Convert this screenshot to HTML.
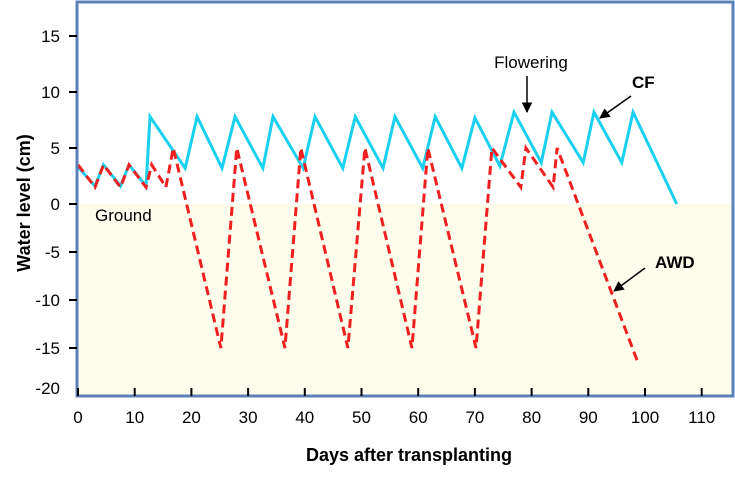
<!DOCTYPE html>
<html><head><meta charset="utf-8"><style>
body{margin:0;background:#fff;}
svg text{font-family:"Liberation Sans",Arial,sans-serif;}
</style></head><body>
<svg id="chart" width="735" height="478" viewBox="0 0 735 478">
<defs><marker id="ah" viewBox="0 0 10 10" refX="9" refY="5" markerWidth="7" markerHeight="7" orient="auto"><path d="M0,0 L10,5 L0,10 z" fill="#000"/></marker></defs>
<rect x="78" y="204" width="654" height="192" fill="#fefdec"/>
<g id="series"></g>
<rect x="77" y="2" width="656" height="394" fill="none" stroke="#5a82b8" stroke-width="3"/>
<g id="axes"></g>
<text x="95" y="221" font-size="17">Ground</text>
<text x="531" y="68" font-size="17" text-anchor="middle">Flowering</text>
<line x1="527" y1="76" x2="527" y2="112" stroke="#000" stroke-width="1.5" marker-end="url(#ah)"/>
<text x="632" y="88" font-size="17" font-weight="bold">CF</text>
<line x1="631" y1="96" x2="600" y2="118" stroke="#000" stroke-width="1.5" marker-end="url(#ah)"/>
<text x="655" y="268" font-size="17" font-weight="bold">AWD</text>
<line x1="645" y1="268" x2="614" y2="291" stroke="#000" stroke-width="1.5" marker-end="url(#ah)"/>
<text transform="translate(30,203) rotate(-90)" font-size="18" font-weight="bold" text-anchor="middle">Water level (cm)</text>
<text x="409" y="461" font-size="18" font-weight="bold" text-anchor="middle">Days after transplanting</text>
</svg>
<script>
const cfDays=[0,3,4.5,7.5,9,12,12.7,18.9,21,25.4,27.7,32.6,34.4,39.7,41.8,46.7,48.9,53.8,55.9,60.8,63,67.7,70,74.4,76.9,81.7,83.6,89.1,91,95.9,97.9,105.6];
const cfLevel=[3.3,1.6,3.5,1.6,3.5,1.6,7.8,3.2,7.8,3.2,7.8,3.2,7.8,3.2,7.8,3.2,7.8,3.2,7.8,3.2,7.8,3.2,7.7,3.4,8.2,3.7,8.2,3.7,8.2,3.7,8.2,0];
const awdDays=[0,3,4.5,7.5,9,12,13,15.5,16.8,25.2,28,36.5,39.3,47.6,50.6,58.9,61.7,70.2,73,78.1,79,83.8,84.5,98.8];
const awdLevel=[3.5,1.5,3.5,1.5,3.5,1.5,3.5,1.5,5,-15,5,-15,5,-15,5,-15,5,-15,5,1.5,5,1.5,5,-16.6];
const xTicks=[0,10,20,30,40,50,60,70,80,90,100,110];
const yTicks=[15,10,5,0,-5,-10,-15,-20];
const NS='http://www.w3.org/2000/svg';
function X(d){return 78+d*5.67;}
function Y(v){return v>=0?204-v*11.2:204-v*9.6;}
const ser=document.getElementById('series'),ax=document.getElementById('axes');
function mk(t,a,p){const e=document.createElementNS(NS,t);for(const k in a)e.setAttribute(k,a[k]);p.appendChild(e);return e;}
const cf=mk('polyline',{points:cfDays.map((d,i)=>X(d)+','+Y(cfLevel[i])).join(' '),fill:'none',stroke:'#1ad0f0','stroke-width':3,'stroke-linejoin':'miter'},ser);


const awd=mk('polyline',{points:awdDays.map((d,i)=>X(d)+','+Y(awdLevel[i])).join(' '),fill:'none',stroke:'#f02020','stroke-width':3,'stroke-dasharray':'9,5'},ser);


xTicks.forEach(t=>{
 const l=mk('line',{x1:X(t),x2:X(t),y1:388,y2:396,stroke:'#000','stroke-width':2},ax);
 
 
 const tx=mk('text',{x:X(t),y:423,'font-size':17,'text-anchor':'middle'},ax);tx.textContent=t;
 
 
});
yTicks.forEach(t=>{
 const y=Y(t);
 if(t>-20){const l=mk('line',{x1:69,x2:77,y1:y,y2:y,stroke:'#000','stroke-width':2},ax);
 
 }
 const tx=mk('text',{x:60,y:(t===-20?388:y)+6,'font-size':17,'text-anchor':'end'},ax);tx.textContent=t;
 
 
});
</script>
</body></html>
